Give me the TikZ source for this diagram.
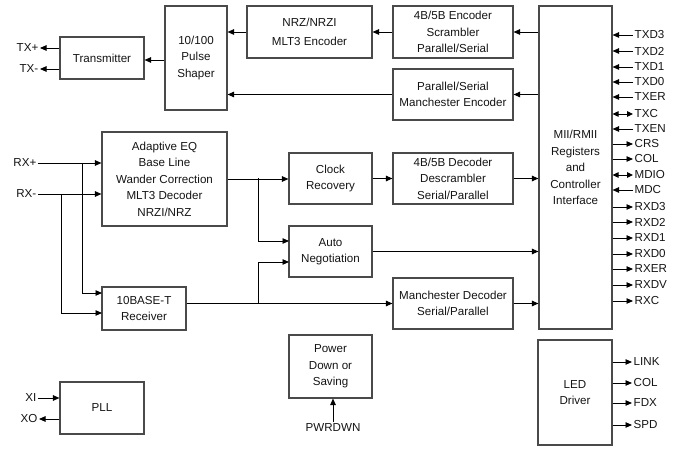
\documentclass[tikz,border=0pt]{standalone}
\usepackage{fontspec}
\setmainfont{Liberation Sans}
\usetikzlibrary{arrows.meta}
\definecolor{boxc}{HTML}{4A4A4A}
\definecolor{txtc}{HTML}{141414}
\tikzset{
  blk/.style={draw=boxc, line width=1.1pt, align=center, inner sep=0pt, text=txtc,
    font=\fontsize{11.6}{16.5}\selectfont},
  lbl/.style={inner sep=1.5pt, text=txtc, font=\fontsize{11.6}{13}\selectfont},
  arr/.style={line width=0.95pt, -{Triangle[length=6.5pt,width=5.5pt]}},
  darr/.style={line width=0.95pt, {Triangle[length=6pt,width=5.5pt]}-{Triangle[length=6pt,width=5.5pt]}}
}
\begin{document}
\begin{tikzpicture}[x=1pt,y=-1pt]
\useasboundingbox (0,0) rectangle (681,468);
% blocks
\node[blk, minimum width=84pt, minimum height=42pt] (tx) at (102,58) {Transmitter};
\node[blk, minimum width=62pt, minimum height=104pt] (ps) at (196,58) {10/100\\Pulse\\Shaper};
\node[blk, minimum width=125pt, minimum height=52pt] (nrz) at (309.5,32) {NRZ/NRZI\\[2.5pt]MLT3 Encoder};
\node[blk, minimum width=120pt, minimum height=52pt] (enc) at (453,32) {4B/5B Encoder\\Scrambler\\Parallel/Serial};
\node[blk, minimum width=120pt, minimum height=51pt] (menc) at (453,94.5) {Parallel/Serial\\Manchester Encoder};
\node[blk, minimum width=73pt, minimum height=323pt] (mii) at (575.5,167.5) {MII/RMII\\Registers\\and\\Controller\\Interface};
\node[blk, minimum width=125pt, minimum height=94pt] (eq) at (164.5,179) {Adaptive EQ\\Base Line\\Wander Correction\\MLT3 Decoder\\NRZI/NRZ};
\node[blk, minimum width=84pt, minimum height=43pt] (rcv) at (144,308.5) {10BASE-T\\Receiver};
\node[blk, minimum width=83pt, minimum height=51pt] (clk) at (330.5,178.5) {Clock\\Recovery};
\node[blk, minimum width=83pt, minimum height=51pt] (an) at (330.5,251.5) {Auto\\Negotiation};
\node[blk, minimum width=120pt, minimum height=51pt] (dec) at (453,178.5) {4B/5B Decoder\\Descrambler\\Serial/Parallel};
\node[blk, minimum width=120pt, minimum height=51pt] (mdec) at (453,303.5) {Manchester Decoder\\Serial/Parallel};
\node[blk, minimum width=84pt, minimum height=52pt] (pll) at (102,408) {PLL};
\node[blk, minimum width=83pt, minimum height=63pt] (pd) at (330.5,366.5) {Power\\Down or\\Saving};
\node[blk, minimum width=74pt, minimum height=105pt] (led) at (575,392.5) {LED\\Driver};

% transmit path
\coordinate (tpx) at (0,60);
\draw[arr] (ps.west |- tpx) -- (tx.east |- tpx);
\draw[arr] (nrz.west) -- (nrz.west -| ps.east);
\draw[arr] (menc.west) -- (menc.west -| ps.east);
\draw[arr] (enc.west) -- (nrz.east);
\draw[arr] (enc.east -| mii.west) -- (enc.east);
\draw[arr] (menc.east -| mii.west) -- (menc.east);
\node[lbl, anchor=east] (txp) at (40,48) {TX+};
\node[lbl, anchor=east] (txm) at (40,69) {TX-};
\draw[arr] (tx.west |- txp) -- (txp.east);
\draw[arr] (tx.west |- txm) -- (txm.east);

% receive inputs
\node[lbl, anchor=east] (rxp) at (38,163) {RX+};
\node[lbl, anchor=east] (rxm) at (38,194) {RX-};
\coordinate (jp) at (82,163);
\coordinate (jm) at (61,194);
\coordinate (rp) at (102,293);
\coordinate (rm) at (102,313);
\draw[arr] (rxp.east) -- (rxp.east -| eq.west);
\draw[arr] (rxm.east) -- (rxm.east -| eq.west);
\draw[arr] (jp) |- (rp);
\draw[arr] (jm) |- (rm);

% equalizer and receiver outputs
\coordinate (ja) at (258,178);
\coordinate (ab) at (289,241);
\coordinate (ac) at (289,262);
\coordinate (jb) at (258,303.5);
\draw[arr] (eq.east) -- (eq.east -| clk.west);
\draw[arr] (ja) |- (ab);
\draw[arr] (rcv.east |- mdec.west) -- (mdec.west);
\draw[arr] (jb) |- (ac);
\draw[arr] (clk.east) -- (dec.west);
\draw[arr] (dec.east) -- (dec.east -| mii.west);
\draw[arr] (an.east) -- (an.east -| mii.west);
\draw[arr] (mdec.east) -- (mdec.east -| mii.west);

% MII signals
\foreach \nm/\yy/\kind in {TXD3/35/i, TXD2/51/i, TXD1/67/i, TXD0/82/i, TXER/97/i, TXC/114/b, TXEN/129/i,
  CRS/144/o, COL/159/o, MDIO/175/b, MDC/190/i, RXD3/207/o, RXD2/222/o, RXD1/238/o, RXD0/254/o,
  RXER/269/o, RXDV/285/o, RXC/301/o}{
  \node[lbl, anchor=west] (s\nm) at (633,\yy) {\nm};
  \if\kind i \draw[arr] (s\nm.west) -- (s\nm.west -| mii.east); \fi
  \if\kind o \draw[arr] (s\nm.west -| mii.east) -- (s\nm.west); \fi
  \if\kind b \draw[darr] (s\nm.west -| mii.east) -- (s\nm.west); \fi
}

% LED outputs
\foreach \nm/\yy in {LINK/362, COL/383, FDX/403, SPD/425}{
  \node[lbl, anchor=west] (l\nm) at (632,\yy) {\nm};
  \draw[arr] (l\nm.west -| led.east) -- (l\nm.west);
}

% PLL
\node[lbl, anchor=east] (xi) at (38,398) {XI};
\node[lbl, anchor=east] (xo) at (39,419) {XO};
\draw[arr] (xi.east) -- (xi.east -| pll.west);
\draw[arr] (xo.east -| pll.west) -- (xo.east);

% power down
\node[lbl] (pw) at (333,428) {PWRDWN};
\draw[arr] (pw.north) -- (pw.north |- pd.south);
\end{tikzpicture}
\end{document}
